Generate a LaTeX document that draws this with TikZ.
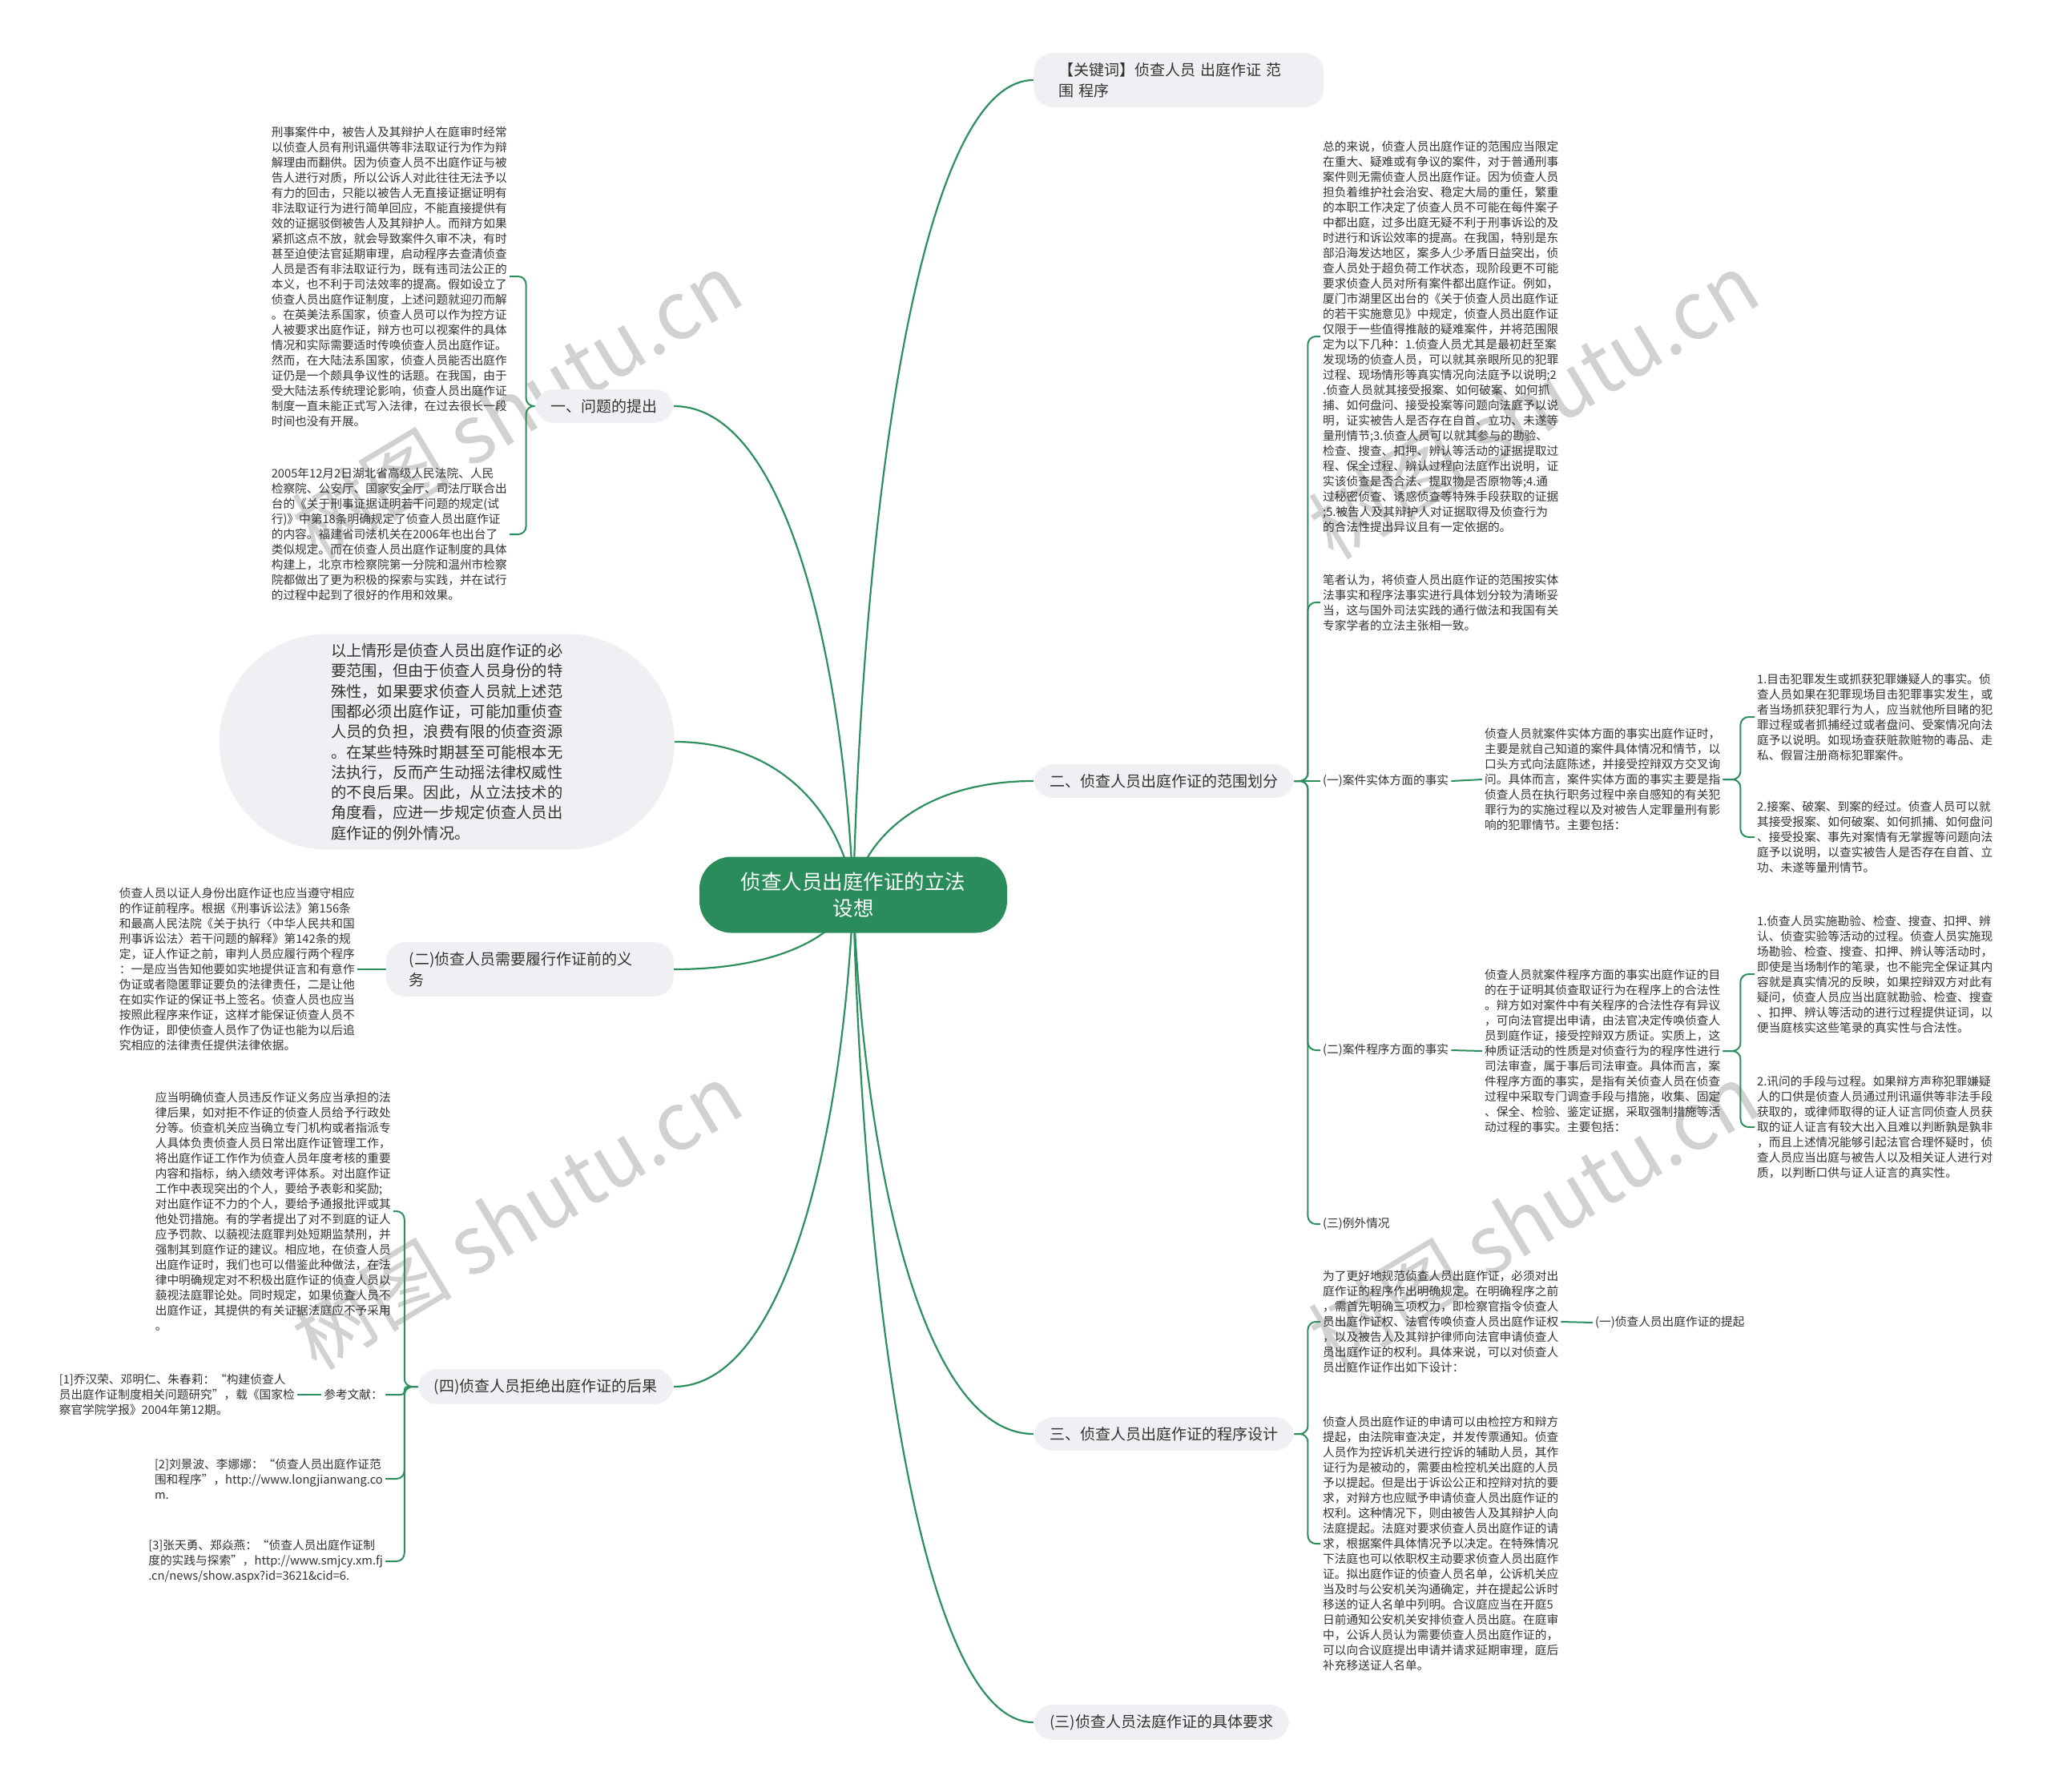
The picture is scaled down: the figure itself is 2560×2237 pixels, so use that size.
\documentclass[tikz,border=0pt]{standalone}
\usepackage{fontspec}
\setmainfont{Noto Sans CJK SC}
\usetikzlibrary{calc}
\definecolor{mmgreen}{HTML}{2A8C5A}
\definecolor{mmline}{HTML}{2E8F5E}
\definecolor{mmgray}{HTML}{EEF0F3}
\definecolor{mmtext}{HTML}{333333}
\pgfdeclarelayer{wm}
\pgfdeclarelayer{edges}
\pgfsetlayers{wm,edges,main}
\newcommand{\mmcurve}[2]{\draw[mmedge] let \p1=(#1), \p2=(#2) in (\p1) .. controls ({\x1+0.05*(\x2-\x1)},{\y1+0.45*(\y2-\y1)}) and ({\x1+0.35*(\x2-\x1)},{\y2}) .. (\p2);}
\newcommand{\brR}[3][17]{\draw[mmbr] (#2.east) -- ++(#1,0) |- (#3.west);}
\newcommand{\brL}[3][17]{\draw[mmbr] (#2.west) -- ++(-#1,0) |- (#3.east);}
\tikzset{
  mmedge/.style={draw=mmline, line width=2.2},
  mmbr/.style={draw=mmline, line width=2, rounded corners=10},
  txt/.style={font=\fontsize{14.7}{19}\selectfont, align=left, text=mmtext, inner sep=3},
  brbox/.style={fill=mmgray, rounded corners=24, font=\fontsize{19}{26}\selectfont, text=mmtext, inner xsep=20, inner ysep=12, align=left},
  bubble/.style={fill=mmgray, rounded corners=134, minimum width=568, minimum height=269, font=\fontsize{19.3}{25.3}\selectfont, align=left, text=mmtext},
  wmk/.style={rotate=31, font=\fontsize{100}{100}\selectfont, text=black!18}
}
\begin{document}
\begin{tikzpicture}[x=1pt,y=-1pt]
\useasboundingbox (0,0) rectangle (2560,2237);
\begin{pgfonlayer}{wm}
\fill[white] (0,0) rectangle (2560,2237);
\node[wmk] (w1) at (645,506) {树图 shutu.cn};
\node[wmk] (w2) at (1914,506) {树图 shutu.cn};
\node[wmk] (w3) at (645,1518) {树图 shutu.cn};
\node[wmk] (w4) at (1914,1518) {树图 shutu.cn};
\end{pgfonlayer}

% center
\node[fill=mmgreen, text=white, rounded corners=40, minimum width=384, minimum height=95, font=\fontsize{25.5}{33}\selectfont, align=center] (c) at (1065,1117) {侦查人员出庭作证的立法\\设想};

% right main branches
\node[brbox, anchor=west, text width=300, inner xsep=31] (kw) at (1290,100) {【关键词】侦查人员 出庭作证 范\\围 程序};
\node[brbox, anchor=west] (b2) at (1290,975) {二、侦查人员出庭作证的范围划分};
\node[brbox, anchor=west] (b3) at (1290,1790) {三、侦查人员出庭作证的程序设计};
\node[brbox, anchor=west] (b4) at (1290,2150) {(三)侦查人员法庭作证的具体要求};

% left main branches
\node[brbox, anchor=east] (b1) at (841,507) {一、问题的提出};
\node[bubble, anchor=east] (bub) at (842,926) {以上情形是侦查人员出庭作证的必\\要范围，但由于侦查人员身份的特\\殊性，如果要求侦查人员就上述范\\围都必须出庭作证，可能加重侦查\\人员的负担，浪费有限的侦查资源\\。在某些特殊时期甚至可能根本无\\法执行，反而产生动摇法律权威性\\的不良后果。因此，从立法技术的\\角度看，应进一步规定侦查人员出\\庭作证的例外情况。};
\node[brbox, anchor=east, text width=301, inner xsep=29] (l2) at (841,1210) {(二)侦查人员需要履行作证前的义\\务};
\node[brbox, anchor=east] (l4) at (841,1731) {(四)侦查人员拒绝出庭作证的后果};

% branch 二 children
\node[txt, anchor=west] (t5) at (1648,420) {总的来说，侦查人员出庭作证的范围应当限定\\在重大、疑难或有争议的案件，对于普通刑事\\案件则无需侦查人员出庭作证。因为侦查人员\\担负着维护社会治安、稳定大局的重任，繁重\\的本职工作决定了侦查人员不可能在每件案子\\中都出庭，过多出庭无疑不利于刑事诉讼的及\\时进行和诉讼效率的提高。在我国，特别是东\\部沿海发达地区，案多人少矛盾日益突出，侦\\查人员处于超负荷工作状态，现阶段更不可能\\要求侦查人员对所有案件都出庭作证。例如，\\厦门市湖里区出台的《关于侦查人员出庭作证\\的若干实施意见》中规定，侦查人员出庭作证\\仅限于一些值得推敲的疑难案件，并将范围限\\定为以下几种：1.侦查人员尤其是最初赶至案\\发现场的侦查人员，可以就其亲眼所见的犯罪\\过程、现场情形等真实情况向法庭予以说明;2\\.侦查人员就其接受报案、如何破案、如何抓\\捕、如何盘问、接受投案等问题向法庭予以说\\明，证实被告人是否存在自首、立功、未遂等\\量刑情节;3.侦查人员可以就其参与的勘验、\\检查、搜查、扣押、辨认等活动的证据提取过\\程、保全过程、辨认过程向法庭作出说明，证\\实该侦查是否合法、提取物是否原物等;4.通\\过秘密侦查、诱惑侦查等特殊手段获取的证据\\;5.被告人及其辩护人对证据取得及侦查行为\\的合法性提出异议且有一定依据的。};
\node[txt, anchor=west] (t6) at (1648,752) {笔者认为，将侦查人员出庭作证的范围按实体\\法事实和程序法事实进行具体划分较为清晰妥\\当，这与国外司法实践的通行做法和我国有关\\专家学者的立法主张相一致。};
\node[txt, anchor=west] (s1) at (1648,975) {(一)案件实体方面的事实};
\node[txt, anchor=west] (s2) at (1648,1311) {(二)案件程序方面的事实};
\node[txt, anchor=west] (s3) at (1648,1528) {(三)例外情况};
\node[txt, anchor=west] (t7) at (1850,973) {侦查人员就案件实体方面的事实出庭作证时，\\主要是就自己知道的案件具体情况和情节，以\\口头方式向法庭陈述，并接受控辩双方交叉询\\问。具体而言，案件实体方面的事实主要是指\\侦查人员在执行职务过程中亲自感知的有关犯\\罪行为的实施过程以及对被告人定罪量刑有影\\响的犯罪情节。主要包括：};
\node[txt, anchor=west] (t8) at (2190,895) {1.目击犯罪发生或抓获犯罪嫌疑人的事实。侦\\查人员如果在犯罪现场目击犯罪事实发生，或\\者当场抓获犯罪行为人，应当就他所目睹的犯\\罪过程或者抓捕经过或者盘问、受案情况向法\\庭予以说明。如现场查获赃款赃物的毒品、走\\私、假冒注册商标犯罪案件。};
\node[txt, anchor=west] (t9) at (2190,1045) {2.接案、破案、到案的经过。侦查人员可以就\\其接受报案、如何破案、如何抓捕、如何盘问\\、接受投案、事先对案情有无掌握等问题向法\\庭予以说明，以查实被告人是否存在自首、立\\功、未遂等量刑情节。};
\node[txt, anchor=west] (t10) at (1850,1312) {侦查人员就案件程序方面的事实出庭作证的目\\的在于证明其侦查取证行为在程序上的合法性\\。辩方如对案件中有关程序的合法性存有异议\\，可向法官提出申请，由法官决定传唤侦查人\\员到庭作证，接受控辩双方质证。实质上，这\\种质证活动的性质是对侦查行为的程序性进行\\司法审查，属于事后司法审查。具体而言，案\\件程序方面的事实，是指有关侦查人员在侦查\\过程中采取专门调查手段与措施，收集、固定\\、保全、检验、鉴定证据，采取强制措施等活\\动过程的事实。主要包括：};
\node[txt, anchor=west] (t11) at (2190,1216) {1.侦查人员实施勘验、检查、搜查、扣押、辨\\认、侦查实验等活动的过程。侦查人员实施现\\场勘验、检查、搜查、扣押、辨认等活动时，\\即使是当场制作的笔录，也不能完全保证其内\\容就是真实情况的反映，如果控辩双方对此有\\疑问，侦查人员应当出庭就勘验、检查、搜查\\、扣押、辨认等活动的进行过程提供证词，以\\便当庭核实这些笔录的真实性与合法性。};
\node[txt, anchor=west] (t12) at (2190,1407) {2.讯问的手段与过程。如果辩方声称犯罪嫌疑\\人的口供是侦查人员通过刑讯逼供等非法手段\\获取的，或律师取得的证人证言同侦查人员获\\取的证人证言有较大出入且难以判断孰是孰非\\，而且上述情况能够引起法官合理怀疑时，侦\\查人员应当出庭与被告人以及相关证人进行对\\质，以判断口供与证人证言的真实性。};

% branch 三 children
\node[txt, anchor=west] (t13) at (1648,1650) {为了更好地规范侦查人员出庭作证，必须对出\\庭作证的程序作出明确规定。在明确程序之前\\，需首先明确三项权力，即检察官指令侦查人\\员出庭作证权、法官传唤侦查人员出庭作证权\\，以及被告人及其辩护律师向法官申请侦查人\\员出庭作证的权利。具体来说，可以对侦查人\\员出庭作证作出如下设计：};
\node[txt, anchor=west] (s4) at (1988,1651) {(一)侦查人员出庭作证的提起};
\node[txt, anchor=west] (t14) at (1648,1927) {侦查人员出庭作证的申请可以由检控方和辩方\\提起，由法院审查决定，并发传票通知。侦查\\人员作为控诉机关进行控诉的辅助人员，其作\\证行为是被动的，需要由检控机关出庭的人员\\予以提起。但是出于诉讼公正和控辩对抗的要\\求，对辩方也应赋予申请侦查人员出庭作证的\\权利。这种情况下，则由被告人及其辩护人向\\法庭提起。法庭对要求侦查人员出庭作证的请\\求，根据案件具体情况予以决定。在特殊情况\\下法庭也可以依职权主动要求侦查人员出庭作\\证。拟出庭作证的侦查人员名单，公诉机关应\\当及时与公安机关沟通确定，并在提起公诉时\\移送的证人名单中列明。合议庭应当在开庭5\\日前通知公安机关安排侦查人员出庭。在庭审\\中，公诉人员认为需要侦查人员出庭作证的，\\可以向合议庭提出申请并请求延期审理，庭后\\补充移送证人名单。};

% left children
\node[txt, anchor=east] (t1) at (636,345) {刑事案件中，被告人及其辩护人在庭审时经常\\以侦查人员有刑讯逼供等非法取证行为作为辩\\解理由而翻供。因为侦查人员不出庭作证与被\\告人进行对质，所以公诉人对此往往无法予以\\有力的回击，只能以被告人无直接证据证明有\\非法取证行为进行简单回应，不能直接提供有\\效的证据驳倒被告人及其辩护人。而辩方如果\\紧抓这点不放，就会导致案件久审不决，有时\\甚至迫使法官延期审理，启动程序去查清侦查\\人员是否有非法取证行为，既有违司法公正的\\本义，也不利于司法效率的提高。假如设立了\\侦查人员出庭作证制度，上述问题就迎刃而解\\。在英美法系国家，侦查人员可以作为控方证\\人被要求出庭作证，辩方也可以视案件的具体\\情况和实际需要适时传唤侦查人员出庭作证。\\然而，在大陆法系国家，侦查人员能否出庭作\\证仍是一个颇具争议性的话题。在我国，由于\\受大陆法系传统理论影响，侦查人员出庭作证\\制度一直未能正式写入法律，在过去很长一段\\时间也没有开展。};
\node[txt, anchor=east] (t2) at (636,667) {2005年12月2日湖北省高级人民法院、人民\\检察院、公安厅、国家安全厅、司法厅联合出\\台的《关于刑事证据证明若干问题的规定(试\\行)》中第18条明确规定了侦查人员出庭作证\\的内容。福建省司法机关在2006年也出台了\\类似规定。而在侦查人员出庭作证制度的具体\\构建上，北京市检察院第一分院和温州市检察\\院都做出了更为积极的探索与实践，并在试行\\的过程中起到了很好的作用和效果。};
\node[txt, anchor=east] (t3) at (446,1210) {侦查人员以证人身份出庭作证也应当遵守相应\\的作证前程序。根据《刑事诉讼法》第156条\\和最高人民法院《关于执行〈中华人民共和国\\刑事诉讼法〉若干问题的解释》第142条的规\\定，证人作证之前，审判人员应履行两个程序\\：一是应当告知他要如实地提供证言和有意作\\伪证或者隐匿罪证要负的法律责任，二是让他\\在如实作证的保证书上签名。侦查人员也应当\\按照此程序来作证，这样才能保证侦查人员不\\作伪证，即使侦查人员作了伪证也能为以后追\\究相应的法律责任提供法律依据。};
\node[txt, anchor=east] (t4) at (491,1512) {应当明确侦查人员违反作证义务应当承担的法\\律后果，如对拒不作证的侦查人员给予行政处\\分等。侦查机关应当确立专门机构或者指派专\\人具体负责侦查人员日常出庭作证管理工作，\\将出庭作证工作作为侦查人员年度考核的重要\\内容和指标，纳入绩效考评体系。对出庭作证\\工作中表现突出的个人，要给予表彰和奖励;\\对出庭作证不力的个人，要给予通报批评或其\\他处罚措施。有的学者提出了对不到庭的证人\\应予罚款、以藐视法庭罪判处短期监禁刑，并\\强制其到庭作证的建议。相应地，在侦查人员\\出庭作证时，我们也可以借鉴此种做法，在法\\律中明确规定对不积极出庭作证的侦查人员以\\藐视法庭罪论处。同时规定，如果侦查人员不\\出庭作证，其提供的有关证据法庭应不予采用\\。};
\node[txt, anchor=east] (ref) at (481,1741) {参考文献：};
\node[txt, anchor=east] (r1) at (371,1741) {[1]乔汉荣、邓明仁、朱春莉：“构建侦查人\\员出庭作证制度相关问题研究”，载《国家检\\察官学院学报》2004年第12期。};
\node[txt, anchor=east] (r2) at (481,1846) {[2]刘景波、李娜娜：“侦查人员出庭作证范\\围和程序”，http://www.longjianwang.co\\m.};
\node[txt, anchor=east] (r3) at (481,1949) {[3]张天勇、郑焱燕：“侦查人员出庭作证制\\度的实践与探索”，http://www.smjcy.xm.fj\\.cn/news/show.aspx?id=3621\&cid=6.};

\begin{pgfonlayer}{edges}
\mmcurve{c.center}{kw.west}
\mmcurve{c.center}{b2.west}
\mmcurve{c.center}{b3.west}
\mmcurve{c.center}{b4.west}
\mmcurve{c.center}{b1.east}
\mmcurve{c.center}{bub.east}
\mmcurve{c.center}{l2.east}
\mmcurve{c.center}{l4.east}
% branch 二
\brR{b2}{t5}
\brR{b2}{t6}
\draw[mmbr] (b2.east) -- (s1.west);
\brR{b2}{s2}
\brR{b2}{s3}
\draw[mmbr] (s1.east) -- (t7.west);
\brR[22]{t7}{t8}
\brR[22]{t7}{t9}
\draw[mmbr] (s2.east) -- (t10.west);
\brR[22]{t10}{t11}
\brR[22]{t10}{t12}
% branch 三
\brR{b3}{t13}
\brR{b3}{t14}
\draw[mmbr] (t13.east) -- (s4.west);
% left
\brL[11]{b1}{t1}
\brL[11]{b1}{t2}
\draw[mmbr] (l2.west) -- (t3.east);
\brL{l4}{t4}
\draw[mmbr, rounded corners=4] (l4.west) -- ++(-17,0) |- (ref.east);
\brL{l4}{r2}
\brL{l4}{r3}
\draw[mmbr] (ref.west) -- (r1.east);
\end{pgfonlayer}
\end{tikzpicture}
\end{document}
